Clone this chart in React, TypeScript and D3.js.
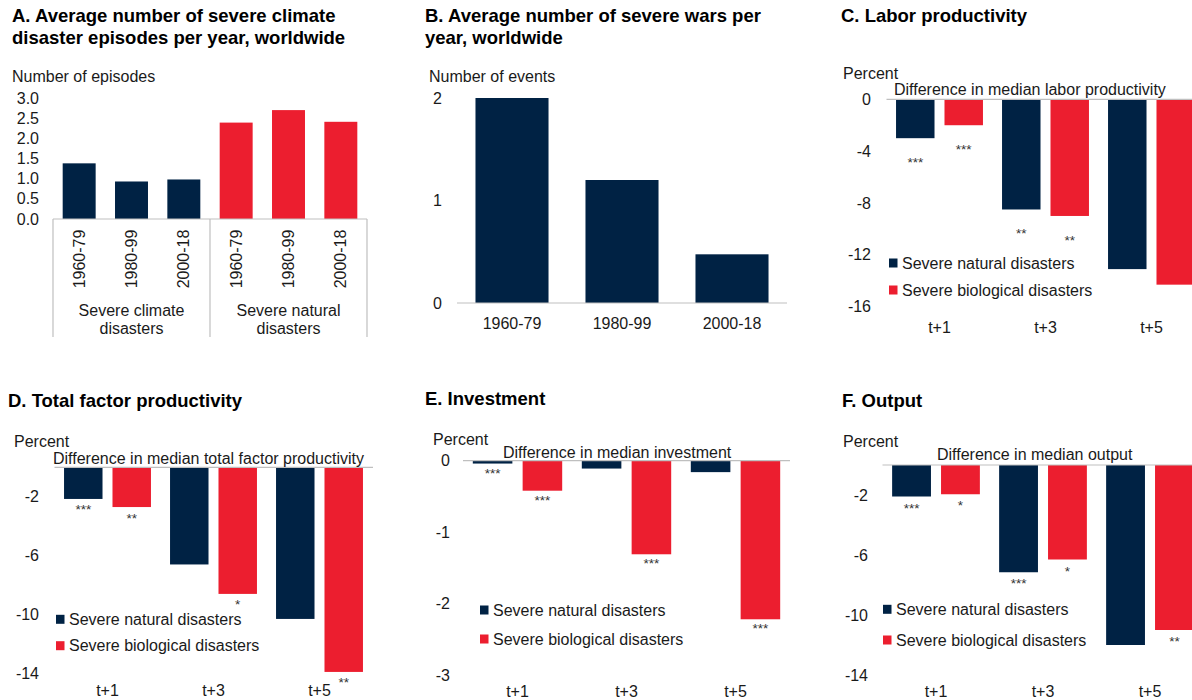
import React from "react";
import * as d3 from "d3";

const NAVY = "#002244";
const RED = "#EC1E2F";
const AXIS = "#BFBFBF";
const TXT = "#1a1a1a";
const FONT = "'Liberation Sans', Arial, Helvetica, sans-serif";

// Panel A
const periods = ["1960-79", "1980-99", "2000-18"];
const climateEpisodes = [1.38, 0.93, 0.98];
const naturalEpisodes = [2.39, 2.7, 2.41];
const groupLabelsA = [["Severe climate", "disasters"], ["Severe natural", "disasters"]];
const ticksA = [0, 0.5, 1, 1.5, 2, 2.5, 3];

// Panel B
const warEvents = [2.0, 1.2, 0.475];
const ticksB = [0, 1, 2];

// Panels C-F
const horizons = ["t+1", "t+3", "t+5"];
const seriesNames = ["Severe natural disasters", "Severe biological disasters"];

const laborNatural = [-3.0, -8.5, -13.1];
const laborBio = [-2.0, -9.0, -14.3];
const laborNaturalStars = ["***", "**", ""];
const laborBioStars = ["***", "**", ""];
const ticksC = [0, -4, -8, -12, -16];

const tfpNatural = [-2.15, -6.6, -10.3];
const tfpBio = [-2.7, -8.6, -13.9];
const tfpNaturalStars = ["***", "", ""];
const tfpBioStars = ["**", "*", "**"];
const ticksD = [-2, -6, -10, -14];

const invNatural = [-0.04, -0.11, -0.16];
const invBio = [-0.42, -1.31, -2.22];
const invNaturalStars = ["***", "", ""];
const invBioStars = ["***", "***", "***"];
const ticksE = [0, -1, -2, -3];

const outNatural = [-2.1, -7.15, -12.0];
const outBio = [-1.95, -6.3, -11.0];
const outNaturalStars = ["***", "***", ""];
const outBioStars = ["*", "*", "**"];
const ticksF = [-2, -6, -10, -14];

const Title = ({ x, y, lines }: { x: number; y: number; lines: string[] }) => (
  <text x={x} y={y} fontFamily={FONT} fontWeight="bold" fontSize={18.5} fill="#000">
    {lines.map((l, i) => (
      <tspan key={i} x={x} dy={i === 0 ? 0 : 22}>
        {l}
      </tspan>
    ))}
  </text>
);

const PanelA = () => {
  const cats = [...periods.map((p) => "c" + p), ...periods.map((p) => "n" + p)];
  const values = [...climateEpisodes, ...naturalEpisodes];
  const x = d3.scaleBand<string>().domain(cats).range([53, 367]).paddingInner(0.37).paddingOuter(0.185);
  const y = d3.scaleLinear().domain([0, 3]).range([219, 98]);
  const boxBottom = 337;
  return (
    <g>
      <Title x={12} y={22} lines={["A. Average number of severe climate", "disaster episodes per year, worldwide"]} />
      <text x={12} y={76} dominantBaseline="central" fontFamily={FONT} fontSize={16} fill={TXT}>
        Number of episodes
      </text>
      {ticksA.map((t) => (
        <text key={t} x={39} y={y(t)} textAnchor="end" dominantBaseline="central" fontFamily={FONT} fontSize={16} fill={TXT}>
          {d3.format(".1f")(t)}
        </text>
      ))}
      {cats.map((c, i) => (
        <rect key={c} x={x(c)} y={y(values[i])} width={x.bandwidth()} height={y(0) - y(values[i])} fill={i < 3 ? NAVY : RED} />
      ))}
      <line x1={53} x2={367} y1={y(0)} y2={y(0)} stroke={AXIS} strokeWidth={1.2} />
      {[0, 3, 6].map((k) => {
        const xx = 53 + k * x.step();
        return <line key={k} x1={xx} x2={xx} y1={y(0)} y2={boxBottom} stroke={AXIS} strokeWidth={1.2} />;
      })}
      {cats.map((c, i) => (
        <text
          key={c}
          transform={`translate(${(x(c) as number) + x.bandwidth() / 2},259) rotate(-90)`}
          textAnchor="middle"
          dominantBaseline="central"
          fontFamily={FONT}
          fontSize={16}
          fill={TXT}
        >
          {periods[i % 3]}
        </text>
      ))}
      {groupLabelsA.map((lines, g) => {
        const cx = 53 + (g * 3 + 1.5) * x.step();
        return lines.map((l, j) => (
          <text key={g + "-" + j} x={cx} y={310 + j * 18} textAnchor="middle" dominantBaseline="central" fontFamily={FONT} fontSize={16} fill={TXT}>
            {l}
          </text>
        ));
      })}
    </g>
  );
};

const PanelB = () => {
  const x = d3.scaleBand<string>().domain(periods).range([457, 787]).paddingInner(0.336).paddingOuter(0.168);
  const y = d3.scaleLinear().domain([0, 2]).range([303, 98]);
  return (
    <g>
      <Title x={425} y={22} lines={["B. Average number of severe wars per", "year, worldwide"]} />
      <text x={429} y={76} dominantBaseline="central" fontFamily={FONT} fontSize={16} fill={TXT}>
        Number of events
      </text>
      {ticksB.map((t) => (
        <text key={t} x={442} y={y(t)} textAnchor="end" dominantBaseline="central" fontFamily={FONT} fontSize={16} fill={TXT}>
          {String(t)}
        </text>
      ))}
      {periods.map((p, i) => (
        <rect key={p} x={x(p)} y={y(warEvents[i])} width={x.bandwidth()} height={y(0) - y(warEvents[i])} fill={NAVY} />
      ))}
      <line x1={457} x2={787} y1={y(0)} y2={y(0)} stroke={AXIS} strokeWidth={1.2} />
      {periods.map((p) => (
        <text key={p} x={(x(p) as number) + x.bandwidth() / 2} y={323} textAnchor="middle" dominantBaseline="central" fontFamily={FONT} fontSize={16} fill={TXT}>
          {p}
        </text>
      ))}
    </g>
  );
};

type GP = {
  title: string;
  titleX: number;
  titleY: number;
  percentX: number;
  percentY: number;
  subtitle: string;
  subX: number;
  subY: number;
  natural: number[];
  bio: number[];
  natStars: string[];
  bioStars: string[];
  ticks: number[];
  yMin: number;
  yZero: number;
  yBottom: number;
  xLeft: number;
  step: number;
  axisRight: number;
  tickX: number;
  starGap: number;
  legendX: number;
  legendY: number[];
  xLabelY: number;
};

const GroupedPanel = (p: GP) => {
  const x0 = d3
    .scaleBand<string>()
    .domain(horizons)
    .range([p.xLeft, p.xLeft + 3 * p.step])
    .paddingInner(0.18)
    .paddingOuter(0.09);
  const x1 = d3.scaleBand<string>().domain(["n", "b"]).range([0, x0.bandwidth()]).paddingInner(0.206);
  const y = d3.scaleLinear().domain([0, p.yMin]).range([p.yZero, p.yBottom]);
  const series = [
    { key: "n", vals: p.natural, stars: p.natStars, color: NAVY },
    { key: "b", vals: p.bio, stars: p.bioStars, color: RED },
  ];
  return (
    <g>
      <Title x={p.titleX} y={p.titleY} lines={[p.title]} />
      <text x={p.percentX} y={p.percentY} dominantBaseline="central" fontFamily={FONT} fontSize={16} fill={TXT}>
        Percent
      </text>
      {p.ticks.map((t) => (
        <text key={t} x={p.tickX} y={y(t)} textAnchor="end" dominantBaseline="central" fontFamily={FONT} fontSize={16} fill={TXT}>
          {String(t)}
        </text>
      ))}
      {series.map((s) =>
        horizons.map((h, i) => {
          const bx = (x0(h) as number) + (x1(s.key) as number);
          const v = s.vals[i];
          return (
            <g key={s.key + h}>
              <rect x={bx} y={y(0)} width={x1.bandwidth()} height={y(v) - y(0)} fill={s.color} />
              {s.stars[i] ? (
                <text x={bx + x1.bandwidth() / 2} y={y(v) + p.starGap + 7} textAnchor="middle" fontFamily={FONT} fontSize={13.5} fill="#333">
                  {s.stars[i]}
                </text>
              ) : null}
            </g>
          );
        })
      )}
      <line x1={p.xLeft} x2={p.axisRight} y1={y(0)} y2={y(0)} stroke={AXIS} strokeWidth={1.2} />
      <text x={p.subX} y={p.subY} dominantBaseline="central" fontFamily={FONT} fontSize={16} fill={TXT}>
        {p.subtitle}
      </text>
      {series.map((s, j) => (
        <g key={"lg" + s.key}>
          <rect x={p.legendX} y={p.legendY[j] - 4.5} width={8.5} height={9} fill={s.color} />
          <text x={p.legendX + 13} y={p.legendY[j]} dominantBaseline="central" fontFamily={FONT} fontSize={16} fill={TXT}>
            {seriesNames[j]}
          </text>
        </g>
      ))}
      {horizons.map((h) => (
        <text key={h} x={(x0(h) as number) + x0.bandwidth() / 2} y={p.xLabelY} textAnchor="middle" dominantBaseline="central" fontFamily={FONT} fontSize={16} fill={TXT}>
          {h}
        </text>
      ))}
    </g>
  );
};

export default function App() {
  return (
    <svg width={1192} height={700} style={{ position: "absolute", left: 0, top: 0, background: "#fff" }}>
      <rect x={0} y={0} width={1192} height={700} fill="#fff" />
      <PanelA />
      <PanelB />
      <GroupedPanel
        title="C. Labor productivity"
        titleX={841}
        titleY={22}
        percentX={843}
        percentY={73}
        subtitle="Difference in median labor productivity"
        subX={894}
        subY={89}
        natural={laborNatural}
        bio={laborBio}
        natStars={laborNaturalStars}
        bioStars={laborBioStars}
        ticks={ticksC}
        yMin={-16}
        yZero={99.3}
        yBottom={306.7}
        xLeft={886.5}
        step={106}
        axisRight={1192}
        tickX={871}
        starGap={22}
        legendX={889}
        legendY={[263, 290]}
        xLabelY={327}
      />
      <GroupedPanel
        title="D. Total factor productivity"
        titleX={8}
        titleY={407}
        percentX={14}
        percentY={441}
        subtitle="Difference in median total factor productivity"
        subX={53}
        subY={458}
        natural={tfpNatural}
        bio={tfpBio}
        natStars={tfpNaturalStars}
        bioStars={tfpBioStars}
        ticks={ticksD}
        yMin={-14}
        yZero={467.3}
        yBottom={673.4}
        xLeft={54.5}
        step={106}
        axisRight={373}
        tickX={39}
        starGap={8.5}
        legendX={56}
        legendY={[619.3, 645.7]}
        xLabelY={690}
      />
      <GroupedPanel
        title="E. Investment"
        titleX={425}
        titleY={405}
        percentX={433}
        percentY={439}
        subtitle="Difference in median investment"
        subX={503}
        subY={452}
        natural={invNatural}
        bio={invBio}
        natStars={invNaturalStars}
        bioStars={invBioStars}
        ticks={ticksE}
        yMin={-3}
        yZero={460.7}
        yBottom={675}
        xLeft={463}
        step={109}
        axisRight={790}
        tickX={450}
        starGap={7}
        legendX={480}
        legendY={[610, 639]}
        xLabelY={691}
      />
      <GroupedPanel
        title="F. Output"
        titleX={842}
        titleY={407}
        percentX={843}
        percentY={441}
        subtitle="Difference in median output"
        subX={937}
        subY={454}
        natural={outNatural}
        bio={outBio}
        natStars={outNaturalStars}
        bioStars={outBioStars}
        ticks={ticksF}
        yMin={-14}
        yZero={465}
        yBottom={675}
        xLeft={882.5}
        step={107}
        axisRight={1192}
        tickX={868}
        starGap={9}
        legendX={883}
        legendY={[609.3, 640]}
        xLabelY={691}
      />
    </svg>
  );
}
